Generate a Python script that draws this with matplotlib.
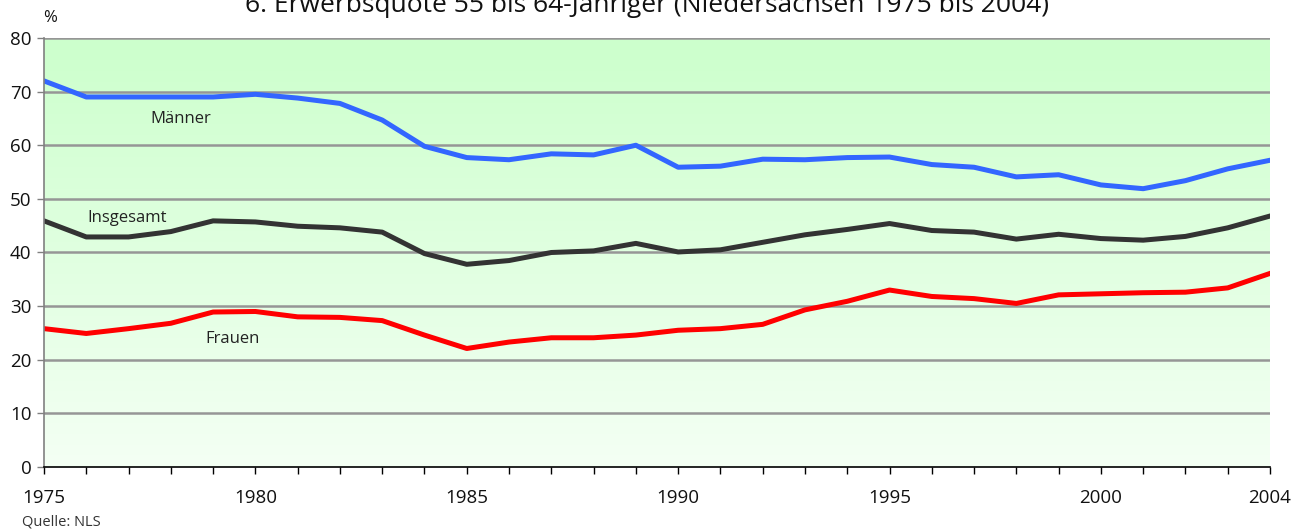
import numpy as np
import matplotlib
matplotlib.use("Agg")
import matplotlib.pyplot as plt
from matplotlib.colors import LinearSegmentedColormap

years = list(range(1975, 2005))
maenner = [72.0, 69.0, 69.0, 69.0, 69.0, 69.5, 68.8, 67.8, 64.7, 59.8,
           57.7, 57.3, 58.4, 58.2, 60.0, 55.9, 56.1, 57.4, 57.3, 57.7,
           57.8, 56.4, 55.9, 54.1, 54.5, 52.6, 51.9, 53.4, 55.6, 57.2]
insgesamt = [45.9, 42.9, 42.9, 43.9, 45.9, 45.7, 44.9, 44.6, 43.8, 39.8,
             37.8, 38.5, 40.0, 40.3, 41.7, 40.1, 40.5, 41.9, 43.3, 44.3,
             45.4, 44.1, 43.8, 42.5, 43.4, 42.6, 42.3, 43.0, 44.6, 46.8]
frauen = [25.8, 24.9, 25.8, 26.8, 28.9, 29.0, 28.0, 27.9, 27.3, 24.6,
          22.1, 23.3, 24.1, 24.1, 24.6, 25.5, 25.8, 26.6, 29.3, 30.9,
          33.0, 31.8, 31.4, 30.5, 32.1, 32.3, 32.5, 32.6, 33.4, 36.1]
yticks = [0, 10, 20, 30, 40, 50, 60, 70, 80]
xticklabels = [1975, 1980, 1985, 1990, 1995, 2000, 2004]
title = "6. Erwerbsquote 55 bis 64-Jähriger (Niedersachsen 1975 bis 2004)"
source = "Quelle: NLS"

plt.rcParams['font.family'] = ['Open Sans', 'DejaVu Sans']

W, H = 1304, 531
fig = plt.figure(figsize=(W / 100, H / 100), dpi=100)
ax = fig.add_axes([44 / W, 1 - 467 / H, (1270 - 44) / W, (467 - 38) / H])

# gradient background
cmap = LinearSegmentedColormap.from_list("g", ["#f4fff4", "#ccffcc"])
grad = np.linspace(0, 1, 256).reshape(-1, 1)
ax.imshow(grad, cmap=cmap, aspect="auto", origin="lower",
          extent=[1975, 2004, 0, 80], zorder=0)

ax.set_xlim(1975, 2004)
ax.set_ylim(0, 80)

for v in yticks[1:]:
    ax.axhline(v, color="#969696", lw=1.8, zorder=1)

ax.plot(years, maenner, color="#3366ff", lw=3.6, zorder=3)
ax.plot(years, insgesamt, color="#333333", lw=3.6, zorder=3)
ax.plot(years, frauen, color="#ff0000", lw=3.6, zorder=3)

ax.text(1978.24, 64.9, "Männer", fontsize=12, ha="center", va="center", color="#222222", zorder=4)
ax.text(1976.96, 46.4, "Insgesamt", fontsize=12, ha="center", va="center", color="#222222", zorder=4)
ax.text(1979.45, 23.9, "Frauen", fontsize=12, ha="center", va="center", color="#222222", zorder=4)

for s in ["top", "right"]:
    ax.spines[s].set_visible(False)
ax.spines["left"].set_color("#808080")
ax.spines["left"].set_linewidth(1.2)
ax.spines["bottom"].set_color("#000000")
ax.spines["bottom"].set_linewidth(1.2)
ax.spines["left"].set_zorder(5)
ax.spines["bottom"].set_zorder(5)

ax.set_yticks(yticks)
ax.set_yticklabels([str(v) for v in yticks])
ax.set_xticks(years)
ax.set_xticklabels([str(y) if y in xticklabels else "" for y in years])
ax.tick_params(axis="y", direction="out", length=5, width=1, color="#808080",
               labelsize=13.5, pad=4, labelcolor="#111111")
ax.tick_params(axis="x", direction="out", length=5, width=1, color="#000000",
               labelsize=13.5, pad=11, labelcolor="#111111")

fig.text(50 / W, 1 - 18 / H, "%", fontsize=12, ha="center", va="center", color="#111111")
fig.text(647 / W, 1 - 12 / H, title, fontsize=19, ha="center", va="baseline", color="#111111")
fig.text(22 / W, 1 - 522 / H, source, fontsize=10.5, ha="left", va="center", color="#333333")

fig.savefig("out.png", dpi=100)
